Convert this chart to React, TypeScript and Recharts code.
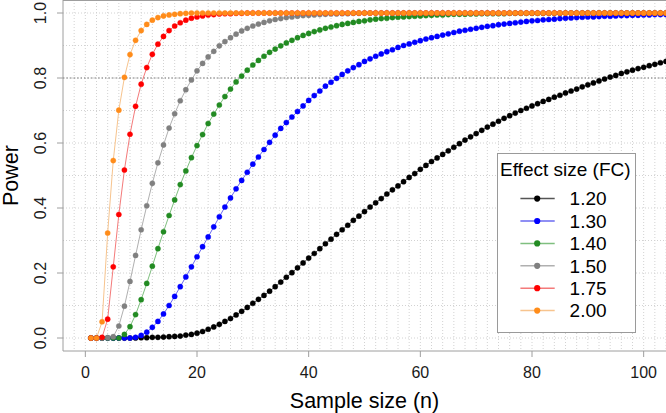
import React from 'react';
import { LineChart, Line, XAxis, YAxis, CartesianGrid, ReferenceLine, Legend, Label } from 'recharts';

const FONT = '"Liberation Sans", Arial, Helvetica, sans-serif';

const sampleSize = [
  1, 2, 3, 4, 5, 6, 7, 8, 9, 10,
  11, 12, 13, 14, 15, 16, 17, 18, 19, 20,
  21, 22, 23, 24, 25, 26, 27, 28, 29, 30,
  31, 32, 33, 34, 35, 36, 37, 38, 39, 40,
  41, 42, 43, 44, 45, 46, 47, 48, 49, 50,
  51, 52, 53, 54, 55, 56, 57, 58, 59, 60,
  61, 62, 63, 64, 65, 66, 67, 68, 69, 70,
  71, 72, 73, 74, 75, 76, 77, 78, 79, 80,
  81, 82, 83, 84, 85, 86, 87, 88, 89, 90,
  91, 92, 93, 94, 95, 96, 97, 98, 99, 100,
  101, 102, 103, 104,
];

const fc120 = [
  0, 0, 0, 0, 0, 0, 0, 0, 0, 0.001,
  0.001, 0.002, 0.002, 0.003, 0.004, 0.005, 0.006, 0.009, 0.011, 0.015,
  0.020, 0.027, 0.034, 0.042, 0.051, 0.060, 0.071, 0.082, 0.094, 0.107,
  0.119, 0.131, 0.144, 0.158, 0.172, 0.187, 0.201, 0.216, 0.231, 0.246,
  0.260, 0.275, 0.290, 0.304, 0.319, 0.333, 0.347, 0.362, 0.375, 0.389,
  0.403, 0.416, 0.429, 0.443, 0.456, 0.468, 0.481, 0.494, 0.506, 0.519,
  0.531, 0.543, 0.554, 0.565, 0.576, 0.587, 0.598, 0.609, 0.619, 0.629,
  0.639, 0.649, 0.658, 0.667, 0.676, 0.684, 0.692, 0.700, 0.707, 0.714,
  0.721, 0.728, 0.734, 0.741, 0.747, 0.754, 0.760, 0.766, 0.773, 0.779,
  0.785, 0.791, 0.797, 0.803, 0.808, 0.814, 0.819, 0.824, 0.829, 0.833,
  0.838, 0.842, 0.847, 0.851,
];

const fc130 = [
  0, 0, 0, 0, 0, 0, 0, 0, 0.002, 0.008,
  0.018, 0.033, 0.051, 0.074, 0.100, 0.128, 0.158, 0.188, 0.219, 0.250,
  0.281, 0.311, 0.342, 0.373, 0.403, 0.431, 0.459, 0.485, 0.510, 0.535,
  0.557, 0.580, 0.602, 0.624, 0.645, 0.663, 0.680, 0.697, 0.714, 0.731,
  0.746, 0.760, 0.775, 0.787, 0.799, 0.811, 0.822, 0.832, 0.841, 0.851,
  0.859, 0.867, 0.874, 0.881, 0.887, 0.894, 0.900, 0.905, 0.910, 0.915,
  0.920, 0.924, 0.928, 0.932, 0.936, 0.940, 0.944, 0.947, 0.950, 0.953,
  0.956, 0.959, 0.961, 0.964, 0.966, 0.968, 0.970, 0.972, 0.974, 0.976,
  0.977, 0.979, 0.980, 0.981, 0.983, 0.984, 0.985, 0.986, 0.987, 0.988,
  0.988, 0.989, 0.990, 0.990, 0.991, 0.992, 0.992, 0.993, 0.993, 0.994,
  0.994, 0.995, 0.995, 0.995,
];

const fc140 = [
  0, 0, 0, 0, 0, 0, 0.011, 0.035, 0.072, 0.118,
  0.168, 0.221, 0.275, 0.327, 0.377, 0.425, 0.472, 0.514, 0.555, 0.592,
  0.626, 0.660, 0.689, 0.717, 0.743, 0.766, 0.788, 0.806, 0.824, 0.840,
  0.854, 0.867, 0.879, 0.889, 0.899, 0.908, 0.916, 0.924, 0.931, 0.937,
  0.943, 0.948, 0.953, 0.957, 0.961, 0.965, 0.968, 0.971, 0.974, 0.976,
  0.979, 0.981, 0.983, 0.984, 0.986, 0.987, 0.988, 0.989, 0.990, 0.991,
  0.992, 0.993, 0.994, 0.994, 0.995, 0.996, 0.996, 0.996, 0.997, 0.997,
  0.998, 0.998, 0.998, 0.998, 0.998, 0.999, 0.999, 0.999, 0.999, 0.999,
  0.999, 0.999, 0.999, 0.999, 0.999, 1, 1, 1, 1, 1,
  1, 1, 1, 1, 1, 1, 1, 1, 1, 1,
  1, 1, 1, 1,
];

const fc150 = [
  0, 0, 0, 0.001, 0.004, 0.037, 0.098, 0.174, 0.254, 0.333,
  0.407, 0.476, 0.539, 0.594, 0.646, 0.690, 0.730, 0.764, 0.794, 0.822,
  0.845, 0.865, 0.882, 0.899, 0.912, 0.924, 0.935, 0.945, 0.953, 0.960,
  0.966, 0.971, 0.976, 0.980, 0.983, 0.986, 0.988, 0.990, 0.992, 0.993,
  0.994, 0.995, 0.996, 0.997, 0.997, 0.998, 0.998, 0.999, 0.999, 1,
  1, 1, 1, 1, 1, 1, 1, 1, 1, 1,
  1, 1, 1, 1, 1, 1, 1, 1, 1, 1,
  1, 1, 1, 1, 1, 1, 1, 1, 1, 1,
  1, 1, 1, 1, 1, 1, 1, 1, 1, 1,
  1, 1, 1, 1, 1, 1, 1, 1, 1, 1,
  1, 1, 1, 1,
];

const fc175 = [
  0, 0, 0.002, 0.058, 0.219, 0.380, 0.517, 0.627, 0.713, 0.781,
  0.832, 0.873, 0.904, 0.928, 0.946, 0.960, 0.970, 0.978, 0.984, 0.988,
  0.991, 0.994, 0.995, 0.997, 0.998, 0.998, 0.999, 0.999, 1, 1,
  1, 1, 1, 1, 1, 1, 1, 1, 1, 1,
  1, 1, 1, 1, 1, 1, 1, 1, 1, 1,
  1, 1, 1, 1, 1, 1, 1, 1, 1, 1,
  1, 1, 1, 1, 1, 1, 1, 1, 1, 1,
  1, 1, 1, 1, 1, 1, 1, 1, 1, 1,
  1, 1, 1, 1, 1, 1, 1, 1, 1, 1,
  1, 1, 1, 1, 1, 1, 1, 1, 1, 1,
  1, 1, 1, 1,
];

const fc200 = [
  0, 0, 0.050, 0.323, 0.546, 0.701, 0.802, 0.872, 0.916, 0.946,
  0.965, 0.978, 0.986, 0.991, 0.994, 0.996, 0.998, 0.999, 1, 1,
  1, 1, 1, 1, 1, 1, 1, 1, 1, 1,
  1, 1, 1, 1, 1, 1, 1, 1, 1, 1,
  1, 1, 1, 1, 1, 1, 1, 1, 1, 1,
  1, 1, 1, 1, 1, 1, 1, 1, 1, 1,
  1, 1, 1, 1, 1, 1, 1, 1, 1, 1,
  1, 1, 1, 1, 1, 1, 1, 1, 1, 1,
  1, 1, 1, 1, 1, 1, 1, 1, 1, 1,
  1, 1, 1, 1, 1, 1, 1, 1, 1, 1,
  1, 1, 1, 1,
];

const seriesLabels = ['1.20', '1.30', '1.40', '1.50', '1.75', '2.00'];
const seriesKeys = ['fc120', 'fc130', 'fc140', 'fc150', 'fc175', 'fc200'];
const seriesValues = [fc120, fc130, fc140, fc150, fc175, fc200];
const dotColors = ['#000000', '#0000ff', '#228b22', '#808080', '#ff0000', '#ff8c1a'];
const lineColors = ['#555555', '#6a6af0', '#7fbf7f', '#b0b0b0', '#f47a7a', '#f7c48e'];

const xTicks = [0, 20, 40, 60, 80, 100];
const yTicks = [0, 0.2, 0.4, 0.6, 0.8, 1.0];
const xGrid = [
  -2, 0, 2, 4, 6, 8, 10, 12, 14, 16, 18, 20, 22, 24, 26, 28, 30, 32, 34, 36, 38, 40,
  42, 44, 46, 48, 50, 52, 54, 56, 58, 60, 62, 64, 66, 68, 70, 72, 74, 76, 78, 80,
  82, 84, 86, 88, 90, 92, 94, 96, 98, 100, 102, 104,
];
const yGrid = [0, 0.1, 0.2, 0.3, 0.4, 0.5, 0.6, 0.7, 0.8, 0.9, 1.0];

const data = sampleSize.map((n, i) => {
  const row: any = { n };
  seriesKeys.forEach((k, j) => {
    row[k] = seriesValues[j][i];
  });
  return row;
});

const XTick = (props: any) => {
  const { x, y, payload } = props;
  return (
    <text x={x} y={y} dy="0.71em" textAnchor="middle" fontSize={16} fontFamily={FONT} fill="#1a1a1a">
      {payload.value}
    </text>
  );
};

const YTick = (props: any) => {
  const { x, y, payload } = props;
  return (
    <text
      x={x}
      y={y}
      transform={`rotate(-90 ${x} ${y})`}
      textAnchor="middle"
      fontSize={16}
      fontFamily={FONT}
      fill="#1a1a1a"
    >
      {Number(payload.value).toFixed(1)}
    </text>
  );
};

const YTitle = (props: any) => {
  const vb = props.viewBox || { x: 0, y: 0, width: 63, height: 351 };
  const cx = vb.x + 17.5;
  const cy = vb.y + vb.height / 2;
  return (
    <text x={cx} y={cy} transform={`rotate(-90 ${cx} ${cy})`} textAnchor="middle" fontSize={21.5} fontFamily={FONT} fill="#000">
      Power
    </text>
  );
};

const XTitle = (props: any) => {
  const vb = props.viewBox || { x: 63, y: 351, width: 603, height: 62 };
  const cx = vb.x + vb.width / 2;
  const cy = vb.y + 56.5;
  return (
    <text x={cx} y={cy} textAnchor="middle" fontSize={21.5} fontFamily={FONT} fill="#000">
      Sample size (n)
    </text>
  );
};

const LegendBox = () => (
  <div
    style={{
      width: 139,
      height: 180,
      border: '1px solid #9a9a9a',
      background: '#ffffff',
      boxSizing: 'border-box',
    }}
  >
    <svg width={137} height={178} style={{ display: 'block' }}>
      <text x={2} y={22.3} fontSize={19} fontFamily={FONT} fill="#000">
        Effect size (FC)
      </text>
      {seriesLabels.map((label, i) => {
        const cy = 44.6 + i * 22.4;
        return (
          <g key={label}>
            <line x1={22.4} x2={56.7} y1={cy} y2={cy} stroke={lineColors[i]} strokeWidth={1.5} />
            <circle cx={39.2} cy={cy} r={3.1} fill={dotColors[i]} />
            <text x={71.6} y={cy + 6.8} fontSize={19} fontFamily={FONT} fill="#000">
              {label}
            </text>
          </g>
        );
      })}
    </svg>
  </div>
);

export default function App() {
  return (
    <div style={{ position: 'absolute', left: 0, top: 0, width: 666, height: 413, background: '#fff' }}>
      <LineChart width={666} height={413} data={data} margin={{ top: 0, right: 0, bottom: 0, left: 0 }}>
        <CartesianGrid
          horizontalValues={yGrid}
          verticalValues={xGrid}
          stroke="#d2d2d2"
          strokeDasharray="1 2"
          strokeWidth={1}
        />
        <XAxis
          dataKey="n"
          type="number"
          domain={[-4, 104]}
          allowDataOverflow
          ticks={xTicks}
          tick={<XTick />}
          tickSize={6}
          tickMargin={9.5}
          height={62}
          stroke="#9e9e9e"
          tickLine={{ stroke: '#9e9e9e' }}
          axisLine={{ stroke: '#9e9e9e' }}
          interval={0}
        >
          <Label content={<XTitle />} />
        </XAxis>
        <YAxis
          type="number"
          domain={[-0.04, 1.04]}
          allowDataOverflow
          ticks={yTicks}
          tick={<YTick />}
          tickSize={6}
          tickMargin={11.5}
          width={63}
          stroke="#9e9e9e"
          tickLine={{ stroke: '#9e9e9e' }}
          axisLine={{ stroke: '#9e9e9e' }}
          interval={0}
        >
          <Label content={<YTitle />} />
        </YAxis>
        <ReferenceLine y={1.04} stroke="#9e9e9e" strokeWidth={2} />
        <ReferenceLine y={0.8} stroke="#7a7a7a" strokeDasharray="1.5 2" strokeWidth={1.2} />
        {seriesKeys.map((k, i) => (
          <Line
            key={k}
            dataKey={k}
            name={seriesLabels[i]}
            type="linear"
            stroke={lineColors[i]}
            strokeWidth={1}
            dot={{ r: 2.6, fill: dotColors[i], stroke: dotColors[i], strokeWidth: 0.4 }}
            activeDot={false}
            isAnimationActive={false}
          />
        ))}
        <Legend
          layout="horizontal"
          align="center"
          verticalAlign="middle"
          content={<LegendBox />}
          wrapperStyle={{ left: 497, top: 152.7, width: 139, height: 180 }}
        />
      </LineChart>
    </div>
  );
}
